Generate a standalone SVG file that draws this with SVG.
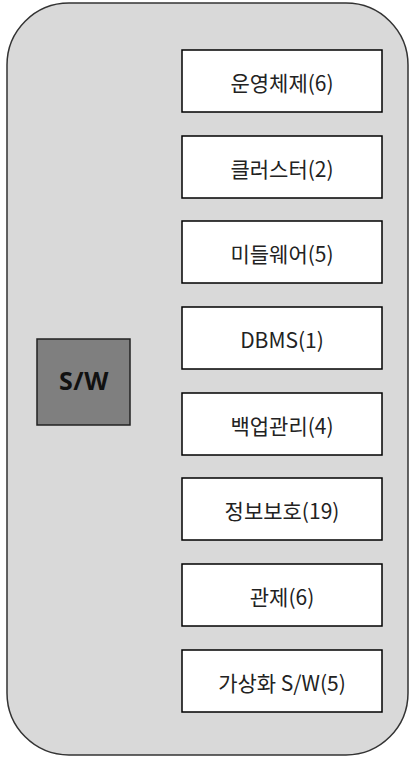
<svg xmlns="http://www.w3.org/2000/svg" width="411" height="758" viewBox="0 0 411 758">
<style>
.bg{fill:#d9d9d9;stroke:#333;stroke-width:1.5}
.item rect{fill:#fff;stroke:#000;stroke-width:1.5}
.item text{font-family:"Noto Sans CJK KR","Noto Sans",sans-serif;font-size:21px;fill:#222;text-anchor:middle;dominant-baseline:central}
.sw rect{fill:#7f7f7f;stroke:#222;stroke-width:1.5}
.sw text{font-family:"Noto Sans","Noto Sans CJK KR",sans-serif;font-size:25px;font-weight:bold;fill:#111;text-anchor:middle;dominant-baseline:central;letter-spacing:0.5px}
</style>
<g id="container"><rect class="bg" x="7" y="3" width="401" height="752" rx="62" ry="62"/></g>
<g id="sw" class="sw"><rect x="37" y="339" width="93" height="86"/><text x="84" y="380">S/W</text></g>
<g id="n1" class="item"><rect x="182" y="50" width="200" height="62"/><text x="282" y="82">운영체제(6)</text></g>
<g id="n2" class="item"><rect x="182" y="136" width="200" height="62"/><text x="282" y="168">클러스터(2)</text></g>
<g id="n3" class="item"><rect x="182" y="221" width="200" height="62"/><text x="282" y="253">미들웨어(5)</text></g>
<g id="n4" class="item"><rect x="182" y="307" width="200" height="62"/><text x="282" y="339">DBMS(1)</text></g>
<g id="n5" class="item"><rect x="182" y="393" width="200" height="62"/><text x="282" y="425">백업관리(4)</text></g>
<g id="n6" class="item"><rect x="182" y="478" width="200" height="62"/><text x="282" y="510">정보보호(19)</text></g>
<g id="n7" class="item"><rect x="182" y="564" width="200" height="62"/><text x="282" y="596">관제(6)</text></g>
<g id="n8" class="item"><rect x="182" y="650" width="200" height="62"/><text x="282" y="682">가상화 S/W(5)</text></g>
<g id="connectors"></g>
</svg>
